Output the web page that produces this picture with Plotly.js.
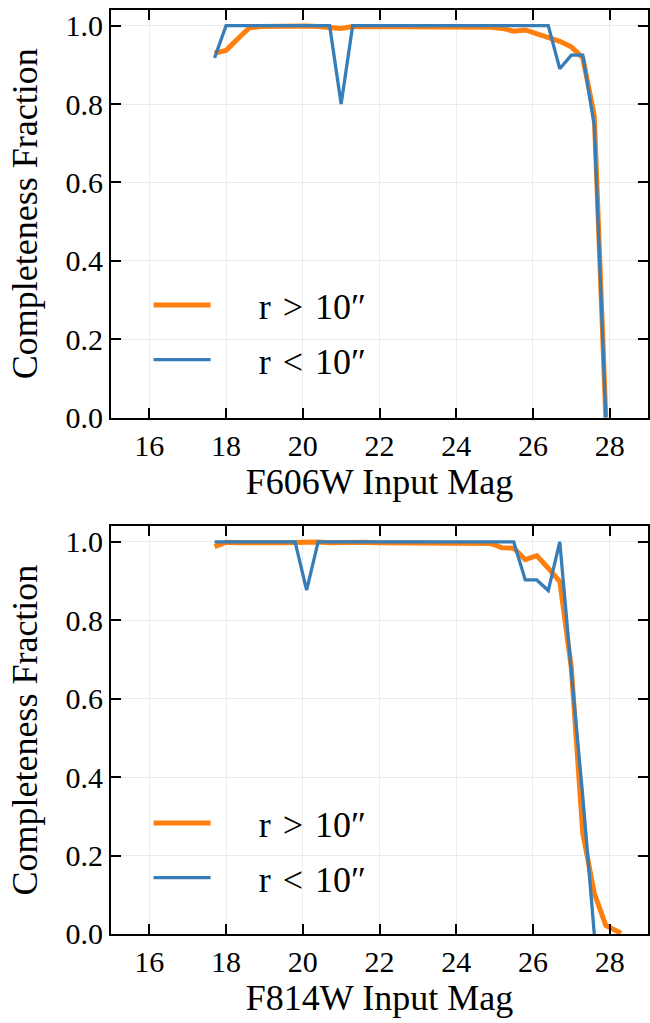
<!DOCTYPE html>
<html>
<head>
<meta charset="utf-8">
<script src="https://cdn.plot.ly/plotly-3.0.1.min.js"></script>
<style>html,body{margin:0;padding:0;background:#fff;}#chart{width:650px;height:1023px;}</style>
</head>
<body>
<div id="chart"></div>
<script>
// ---- data ----
const magF606W = [17.7, 18.0, 18.3, 18.6, 18.9, 19.2, 19.5, 19.8, 20.1, 20.4, 20.7, 21.0, 21.3, 21.6, 21.9, 22.2, 22.5, 22.8, 23.1, 23.4, 23.7, 24.0, 24.3, 24.6, 24.9, 25.2, 25.5, 25.8, 26.1, 26.4, 26.7, 27.0, 27.3, 27.6, 27.9];
const compF606W_outer = [0.930, 0.937, 0.966, 0.994, 0.998, 0.999, 0.998, 0.999, 0.999, 0.998, 0.997, 0.993, 0.998, 0.998, 0.997, 0.998, 0.998, 0.999, 0.998, 0.999, 0.998, 0.998, 0.998, 0.997, 0.996, 0.993, 0.986, 0.989, 0.980, 0.972, 0.960, 0.946, 0.918, 0.770, 0.0];
const compF606W_inner = [0.918, 1.0, 1.0, 1.0, 1.0, 1.0, 1.0, 1.0, 1.0, 1.0, 1.0, 0.800, 1.0, 1.0, 1.0, 1.0, 1.0, 1.0, 1.0, 1.0, 1.0, 1.0, 1.0, 1.0, 1.0, 1.0, 1.0, 1.0, 1.0, 1.0, 0.890, 0.925, 0.925, 0.745, 0.0];

const magF814W_outer = [17.7, 18.0, 18.3, 18.6, 18.9, 19.2, 19.5, 19.8, 20.1, 20.4, 20.7, 21.0, 21.3, 21.6, 21.9, 22.2, 22.5, 22.8, 23.1, 23.4, 23.7, 24.0, 24.3, 24.6, 24.9, 25.2, 25.5, 25.8, 26.1, 26.4, 26.7, 27.0, 27.3, 27.6, 27.9, 28.3];
const compF814W_outer = [0.988, 0.999, 0.998, 0.997, 0.998, 0.998, 0.998, 0.999, 1.002, 1.000, 0.998, 0.999, 0.998, 0.999, 0.998, 0.998, 0.998, 0.999, 0.998, 0.999, 0.998, 0.998, 0.997, 0.997, 0.996, 0.985, 0.984, 0.955, 0.965, 0.933, 0.899, 0.680, 0.257, 0.104, 0.022, 0.002];
const magF814W_inner = [17.7, 18.0, 18.3, 18.6, 18.9, 19.2, 19.5, 19.8, 20.1, 20.4, 20.7, 21.0, 21.3, 21.6, 21.9, 22.2, 22.5, 22.8, 23.1, 23.4, 23.7, 24.0, 24.3, 24.6, 24.9, 25.2, 25.5, 25.8, 26.1, 26.4, 26.7, 27.0, 27.3, 27.6];
const compF814W_inner = [1.0, 1.0, 1.0, 1.0, 1.0, 1.0, 1.0, 1.0, 0.877, 1.0, 1.0, 1.0, 1.0, 1.0, 1.0, 1.0, 1.0, 1.0, 1.0, 1.0, 1.0, 1.0, 1.0, 1.0, 1.0, 1.0, 1.0, 0.903, 0.903, 0.876, 1.0, 0.670, 0.350, 0.0];

const seriesNames = ["\u2003\u2009r\u2004>\u200410\u2033", "\u2003\u2009r\u2004<\u200410\u2033"];
const xTitles = ["F606W Input Mag", "F814W Input Mag"];
const yTitle = "Completeness Fraction";

// ---- styles ----
const orange = "#ff7f0e";
const blue = "#377eb8";
const FONT = "Liberation Serif, Times New Roman, serif";

const traces = [
  {x: magF606W, y: compF606W_outer, name: seriesNames[0], xaxis: "x", yaxis: "y", legend: "legend", legendgroup: "a1",
   mode: "lines", line: {color: orange, width: 5}},
  {x: magF606W, y: compF606W_inner, name: seriesNames[1], xaxis: "x", yaxis: "y", legend: "legend", legendgroup: "b1",
   mode: "lines", line: {color: blue, width: 3.3}},
  {x: magF814W_outer, y: compF814W_outer, name: seriesNames[0], xaxis: "x2", yaxis: "y2", legend: "legend2", legendgroup: "a2",
   mode: "lines", line: {color: orange, width: 5}},
  {x: magF814W_inner, y: compF814W_inner, name: seriesNames[1], xaxis: "x2", yaxis: "y2", legend: "legend2", legendgroup: "b2",
   mode: "lines", line: {color: blue, width: 3.3}}
];

function xax(title, anchor) {
  return {
    anchor: anchor, range: [15, 29], tick0: 16, dtick: 2, tickmode: "linear",
    ticks: "inside", ticklen: 10, tickwidth: 2, tickcolor: "#000",
    showline: true, linecolor: "#000", linewidth: 2, mirror: "ticks",
    showgrid: true, gridcolor: "#ebebeb", gridwidth: 1, zeroline: false,
    tickfont: {family: FONT, size: 30, color: "#000"},
    title: {text: title, font: {family: FONT, size: 36, color: "#000"}, standoff: 5}
  };
}
function yax(anchor, domain) {
  return {
    anchor: anchor, domain: domain, range: [0, 1.04], tick0: 0, dtick: 0.2, tickmode: "linear", tickformat: ".1f",
    ticks: "inside", ticklen: 10, tickwidth: 2, tickcolor: "#000",
    showline: true, linecolor: "#000", linewidth: 2, mirror: "ticks",
    showgrid: true, gridcolor: "#ebebeb", gridwidth: 1, zeroline: false,
    tickfont: {family: FONT, size: 30, color: "#000"},
    title: {text: yTitle, font: {family: FONT, size: 36, color: "#000"}, standoff: 17}
  };
}
function leg(yPos) {
  return {
    x: 0.07, y: yPos, xanchor: "left", yanchor: "top", bgcolor: "rgba(0,0,0,0)", borderwidth: 0,
    font: {family: FONT, size: 36, color: "#000"}, itemwidth: 57, tracegroupgap: 5, traceorder: "grouped"
  };
}

const layout = {
  width: 650, height: 1023,
  margin: {l: 111, r: 2, t: 10, b: 89},
  paper_bgcolor: "#fff", plot_bgcolor: "#fff",
  showlegend: true,
  xaxis: xax(xTitles[0], "y"),
  yaxis: yax("x", [0.5588, 1.0]),
  xaxis2: xax(xTitles[1], "y2"),
  yaxis2: yax("x2", [0, 0.4413]),
  legend: leg(1.0 - (275 - 10) / 924),
  legend2: leg(1.0 - (793 - 10) / 924)
};

Plotly.newPlot("chart", traces, layout, {displayModeBar: false, staticPlot: true});
</script>
</body>
</html>
